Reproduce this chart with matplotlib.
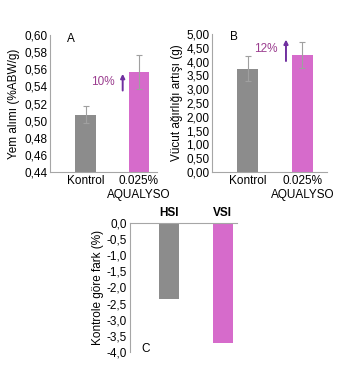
import matplotlib
matplotlib.use("Agg")
import matplotlib.pyplot as plt

plt.rcParams['font.family'] = ['Liberation Sans', 'DejaVu Sans']

groups = ["Kontrol", "0.025%\nAQUALYSO"]
feed = [0.507, 0.557]
feed_err = [0.010, 0.020]
gain = [3.75, 4.25]
gain_err = [0.45, 0.47]
c_labels = ["HSI", "VSI"]
c_vals = [-2.35, -3.72]
yticks_a = [0.44, 0.46, 0.48, 0.50, 0.52, 0.54, 0.56, 0.58, 0.60]
yticks_b = [0.0, 0.5, 1.0, 1.5, 2.0, 2.5, 3.0, 3.5, 4.0, 4.5, 5.0]
yticks_c = [0.0, -0.5, -1.0, -1.5, -2.0, -2.5, -3.0, -3.5, -4.0]

GRAY = "#8c8c8c"
PINK = "#d66bcb"
PURPLE = "#7030a0"
TXTP = "#9b3d8f"
SPINE = "#a6a6a6"
FS = 8.5

fig = plt.figure(figsize=(3.5, 3.78), dpi=100)

def style(ax):
    for s in ["top", "right"]:
        ax.spines[s].set_visible(False)
    for s in ["left", "bottom"]:
        ax.spines[s].set_color(SPINE)
        ax.spines[s].set_linewidth(0.8)
    ax.tick_params(length=0, labelsize=FS, pad=2)

def fmt(v, d):
    return f"{v:.{d}f}".replace(".", ",")

err_kw = dict(elinewidth=0.8, capsize=2, capthick=0.8)

# Panel A
axA = fig.add_axes([0.143, 0.545, 0.306, 0.362])
x = [0, 1]
axA.bar(x, feed, width=0.38, color=[GRAY, PINK],
        yerr=feed_err, ecolor="#a0a0a0", error_kw=err_kw)
axA.set_ylim(0.44, 0.60)
axA.set_xlim(-0.67, 1.35)
axA.set_yticks(yticks_a)
axA.set_yticklabels([fmt(v, 2) for v in yticks_a])
axA.set_xticks(x)
axA.set_xticklabels(groups, fontsize=FS)
axA.set_ylabel("Yem alımı (%ABW/g)", fontsize=FS, labelpad=3)
style(axA)
axA.text(-0.35, 0.596, "A", fontsize=FS, va="center")
axA.annotate("", xy=(0.70, 0.558), xytext=(0.70, 0.532),
             arrowprops=dict(arrowstyle="-|>", color=PURPLE, lw=1.4, mutation_scale=6))
axA.text(0.55, 0.545, "10%", color=TXTP, fontsize=FS, ha="right", va="center")

# Panel B
axB = fig.add_axes([0.606, 0.545, 0.328, 0.365])
axB.bar(x, gain, width=0.38, color=[GRAY, PINK],
        yerr=gain_err, ecolor="#a0a0a0", error_kw=err_kw)
axB.set_ylim(0, 5.0)
axB.set_xlim(-0.645, 1.445)
axB.set_yticks(yticks_b)
axB.set_yticklabels([fmt(v, 2) for v in yticks_b])
axB.set_xticks(x)
axB.set_xticklabels(groups, fontsize=FS)
axB.set_ylabel("Vücut ağırlığı artışı (g)", fontsize=FS, labelpad=2)
style(axB)
axB.text(-0.32, 4.88, "B", fontsize=FS, va="center")
axB.annotate("", xy=(0.70, 4.9), xytext=(0.70, 3.92),
             arrowprops=dict(arrowstyle="-|>", color=PURPLE, lw=1.4, mutation_scale=6))
axB.text(0.55, 4.45, "12%", color=TXTP, fontsize=FS, ha="right", va="center")

# Panel C
axC = fig.add_axes([0.371, 0.069, 0.306, 0.341])
axC.bar(x, c_vals, width=0.37, color=[GRAY, PINK])
axC.set_ylim(-4.0, 0.0)
axC.set_xlim(-0.72, 1.26)
axC.set_yticks(yticks_c)
axC.set_yticklabels([fmt(v, 1) for v in yticks_c])
axC.set_xticks([])
style(axC)
axC.spines["bottom"].set_visible(False)
axC.spines["top"].set_visible(True)
axC.spines["top"].set_color(SPINE)
axC.spines["top"].set_linewidth(0.8)
for xi, lab in zip(x, c_labels):
    axC.text(xi, 0.3, lab, fontsize=FS, fontweight="bold", ha="center", va="center")
axC.set_ylabel("Kontrole göre fark (%)", fontsize=FS, labelpad=2)
axC.text(-0.5, -3.9, "C", fontsize=FS, va="center")

fig.savefig("out.png", dpi=100)
